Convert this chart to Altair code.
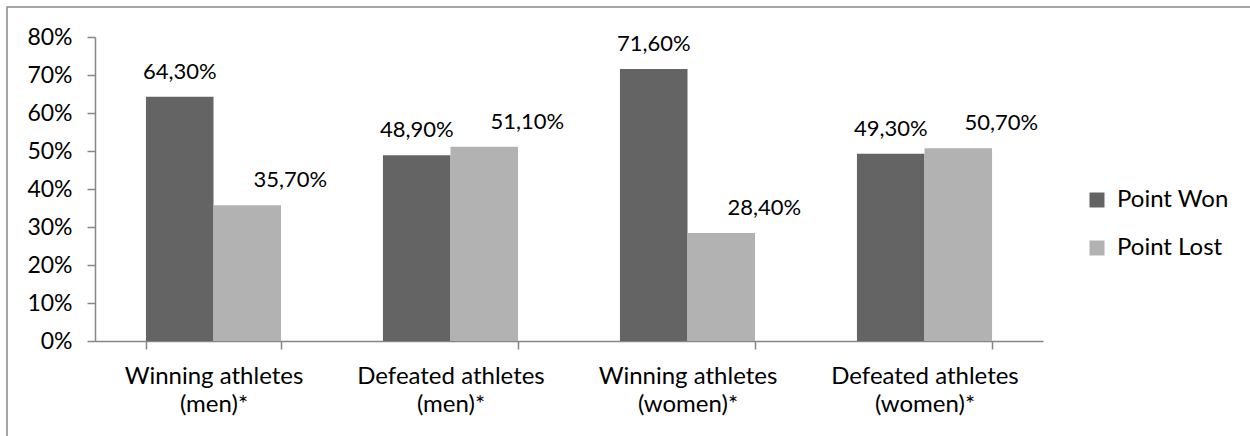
import altair as alt
import pandas as pd

categories = [
    "Winning athletes|(men)*",
    "Defeated athletes|(men)*",
    "Winning athletes|(women)*",
    "Defeated athletes|(women)*",
]
series = ["Point Won", "Point Lost"]
won = [0.643, 0.489, 0.716, 0.493]
lost = [0.357, 0.511, 0.284, 0.507]
colors = ["#646464", "#b2b2b2"]
y_ticks = [0, 0.1, 0.2, 0.3, 0.4, 0.5, 0.6, 0.7, 0.8]

rows = []
for c, w, l in zip(categories, won, lost):
    rows.append({"group": c, "series": series[0], "value": w})
    rows.append({"group": c, "series": series[1], "value": l})
df = pd.DataFrame(rows)

FONT = "Lato"
AXIS_GRAY = "#868686"

x_enc = alt.X(
    "group:N",
    sort=categories,
    scale=alt.Scale(paddingInner=0.43, paddingOuter=0.215),
    axis=alt.Axis(
        title=None,
        labelAngle=0,
        labelExpr="split(datum.label, '|')",
        tickBand="extent",
        labelPadding=15,
        labelLineHeight=28,
        labelFontSize=24,
        labelLimit=0,
    ),
)
y_axis = alt.Axis(
    title=None,
    values=y_ticks,
    format=".0%",
    grid=False,
    labelPadding=15,
    labelOverlap=False,
    labelFontSize=23,
)
y_scale = alt.Scale(domain=[0, 0.8], nice=False)

base = alt.Chart(df).encode(
    x=x_enc,
    xOffset=alt.XOffset("series:N", sort=series, scale=alt.Scale(paddingInner=0, paddingOuter=0)),
)

bars = base.mark_bar().encode(
    y=alt.Y("value:Q", scale=y_scale, axis=y_axis),
    color=alt.Color(
        "series:N",
        sort=series,
        scale=alt.Scale(domain=series, range=colors),
        legend=alt.Legend(
            title=None,
            orient="none",
            legendX=990,
            legendY=151,
            symbolType="square",
            symbolSize=225,
            symbolStrokeWidth=0,
            labelFont=FONT,
            labelFontSize=24,
            labelColor="#000000",
            rowPadding=24,
            labelOffset=8,
        ),
    ),
)


def value_labels(name, dx):
    return base.mark_text(
        baseline="alphabetic", dy=-18, dx=dx, font=FONT, fontSize=22, color="#000000"
    ).transform_filter(
        alt.datum.series == name
    ).transform_calculate(
        lbl="replace(format(datum.value, '.2%'), '.', ',')"
    ).encode(
        y=alt.Y("value:Q", scale=y_scale, axis=y_axis),
        text="lbl:N",
    )


labels_won = value_labels(series[0], 0)
labels_lost = value_labels(series[1], 43)

border = alt.Chart(alt.Data(values=[{}])).mark_rect(
    fillOpacity=0, stroke="#898989", strokeWidth=1.5
).encode(
    x=alt.value(-88), x2=alt.value(1200), y=alt.value(-30), y2=alt.value(420)
)

chart = alt.layer(border, bars, labels_won, labels_lost).properties(
    width=948,
    height=304,
    autosize="none",
    padding={"left": 95, "top": 37, "right": 207, "bottom": 95},
).configure_view(stroke=None).configure_axis(
    domainColor=AXIS_GRAY,
    tickColor=AXIS_GRAY,
    domainWidth=1.5,
    tickWidth=1.5,
    tickSize=8,
    labelFont=FONT,
    labelColor="#000000",
)

chart.save("out.html", embed_options={"renderer": "svg", "actions": False})
